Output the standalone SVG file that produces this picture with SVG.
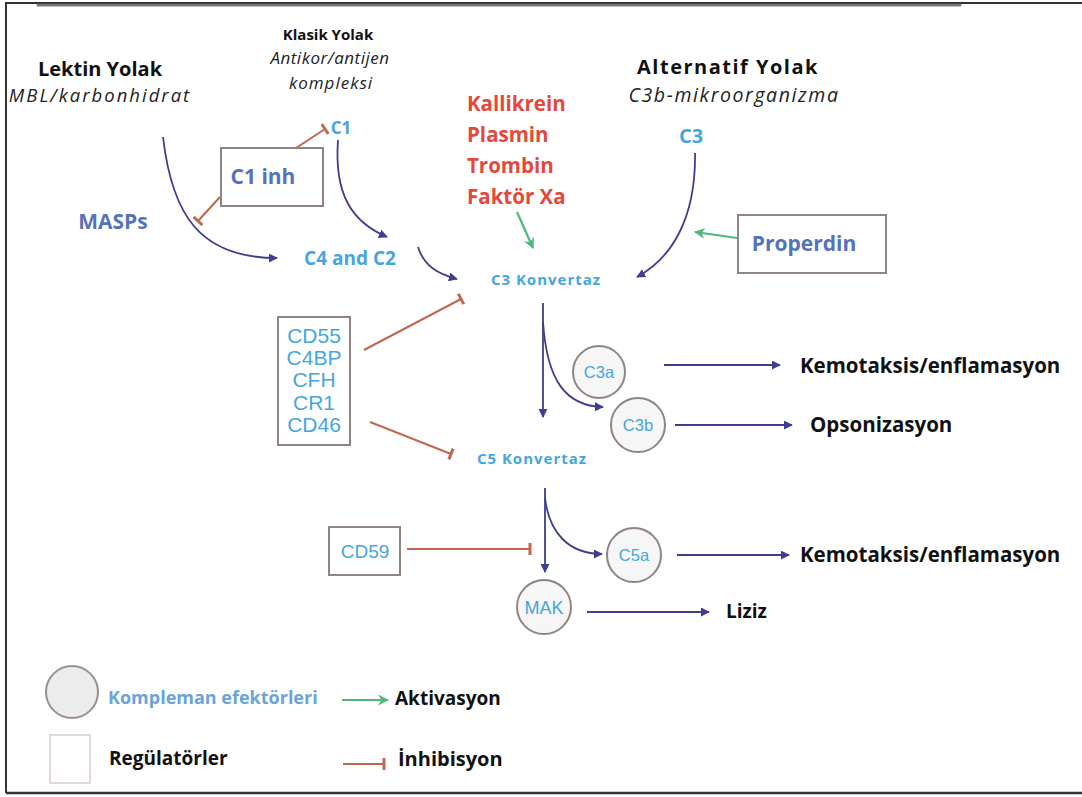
<svg xmlns="http://www.w3.org/2000/svg" width="1082" height="797" viewBox="0 0 1082 797">
  <style>
    .hd { font-family: "Open Sans", "Liberation Sans", sans-serif; font-weight: bold; font-size: 20px; fill: #111; }
    .it { font-family: "Open Sans", "Liberation Sans", sans-serif; font-style: italic; font-size: 18.5px; letter-spacing: 2px; fill: #222; }
    .lb { font-family: "Open Sans", "Liberation Sans", sans-serif; font-weight: bold; font-size: 19px; fill: #45a6df; }
    .mb { font-family: "Open Sans", "Liberation Sans", sans-serif; font-weight: bold; font-size: 21px; fill: #5572bb; }
    .rd { font-family: "Open Sans", "Liberation Sans", sans-serif; font-weight: bold; font-size: 20.5px; fill: #e5483a; }
    .sm { font-family: "Open Sans", "Liberation Sans", sans-serif; font-weight: bold; font-size: 15px; letter-spacing: 1px; fill: #45a6df; }
    .rg { font-family: "Liberation Sans", Arial, sans-serif; font-size: 21px; fill: #45a6df; }
    .ef { font-family: "Liberation Sans", Arial, sans-serif; font-size: 16.5px; fill: #45a6df; }
    .out { font-family: "Open Sans", "Liberation Sans", sans-serif; font-weight: bold; font-size: 20.5px; fill: #111; }
    .box { fill: #fff; stroke: #8f8480; stroke-width: 2; }
    .eff { fill: #f6f6f6; stroke: #8f8480; stroke-width: 2; }
    .act { fill: none; stroke: #3f3d90; stroke-width: 1.8; marker-end: url(#ah); }
    .grn { fill: none; stroke: #4cba78; stroke-width: 2.2; marker-end: url(#ag); }
    .inh { fill: none; stroke: #c0674f; stroke-width: 2; marker-end: url(#tb); }
  </style>
  <defs>
    <marker id="ah" viewBox="0 0 10 10" refX="9" refY="5" markerWidth="9" markerHeight="9" orient="auto" markerUnits="userSpaceOnUse">
      <path d="M0,0 L10,5 L0,10 z" fill="#3f3d90"/>
    </marker>
    <marker id="ag" viewBox="0 0 10 10" refX="9" refY="5" markerWidth="11" markerHeight="11" orient="auto" markerUnits="userSpaceOnUse">
      <path d="M0,0 L10,5 L0,10 L3,5 z" fill="#4cba78"/>
    </marker>
    <marker id="tb" viewBox="0 0 4 12" refX="2" refY="6" markerWidth="4" markerHeight="12" orient="auto" markerUnits="userSpaceOnUse">
      <rect x="0.5" y="0" width="3" height="12" fill="#c0674f"/>
    </marker>
  </defs>

  <rect width="1082" height="797" fill="#fff"/>
  <!-- outer frame -->
  <path d="M6,793 L6,3 L1082,3" fill="none" stroke="#333" stroke-width="2"/>
  <path d="M6,793 L1082,793" fill="none" stroke="#333" stroke-width="2.5"/>
  <path d="M38,5 L960,5" fill="none" stroke="#555" stroke-width="3" stroke-linecap="round" opacity="0.8"/>

  <!-- pathway headers -->
  <g id="lektin">
    <text class="hd" x="100" y="76" text-anchor="middle">Lektin Yolak</text>
    <text class="it" x="100" y="102" text-anchor="middle">MBL/karbonhidrat</text>
  </g>
  <g id="klasik">
    <text class="hd" x="328" y="40" text-anchor="middle" style="font-size:15px">Klasik Yolak</text>
    <text class="it" x="330" y="64" text-anchor="middle" style="font-size:17px;letter-spacing:0.5px">Antikor/antijen</text>
    <text class="it" x="331" y="89" text-anchor="middle" style="font-size:17px;letter-spacing:1px">kompleksi</text>
  </g>
  <g id="alternatif">
    <text class="hd" x="728" y="74" text-anchor="middle" style="letter-spacing:1.5px">Alternatif Yolak</text>
    <text class="it" x="734" y="102" text-anchor="middle" style="font-size:19.5px;letter-spacing:1.6px">C3b-mikroorganizma</text>
  </g>

  <!-- connectors -->
  <g id="connectors">
    <path class="act" d="M163,137 C172,215 200,258 277,258"/>
    <path class="act" d="M338,140 C334,195 352,222 387,237"/>
    <path class="act" d="M418,247 C424,266 438,274 457,279"/>
    <path class="act" d="M695,153 C696,218 672,258 637,277"/>
    <path class="grn" d="M517,212 L533,248"/>
    <path class="grn" d="M737,238 L695,232"/>
    <path class="inh" d="M220,197 L198,221"/>
    <path class="inh" d="M296,148 L325,129"/>
    <path class="inh" d="M364,350 L461,299"/>
    <path class="inh" d="M370,422 L451,454"/>
    <path class="inh" d="M407,549 L530,549"/>
    <path class="act" d="M543,303 L543,417"/>
    <path class="act" d="M543,322 C547,380 565,406 603,407"/>
    <path class="act" d="M545,488 L545,572"/>
    <path class="act" d="M545,498 C549,532 568,554 602,554"/>
    <path class="act" d="M664,365 L780,365"/>
    <path class="act" d="M675,425 L792,425"/>
    <path class="act" d="M677,555 L789,555"/>
    <path class="act" d="M587,612 L709,612"/>
  </g>

  <!-- nodes -->
  <g id="c1"><text class="lb" x="341" y="134" text-anchor="middle" style="font-size:17px">C1</text></g>
  <g id="c1inh">
    <rect class="box" x="221" y="148" width="102" height="58"/>
    <text class="mb" x="263" y="184" text-anchor="middle">C1 inh</text>
  </g>
  <g id="masps"><text class="mb" x="113" y="229" text-anchor="middle">MASPs</text></g>
  <g id="c4c2"><text class="lb" x="350" y="265" text-anchor="middle">C4 and C2</text></g>
  <g id="proteazlar">
    <text class="rd" x="467" y="111">Kallikrein</text>
    <text class="rd" x="467" y="142">Plasmin</text>
    <text class="rd" x="467" y="173">Trombin</text>
    <text class="rd" x="467" y="204">Faktör Xa</text>
  </g>
  <g id="c3"><text class="lb" x="691" y="143" text-anchor="middle" style="font-size:20px">C3</text></g>
  <g id="properdin">
    <rect class="box" x="738" y="215" width="148" height="58"/>
    <text class="mb" x="804" y="251" text-anchor="middle">Properdin</text>
  </g>
  <g id="c3konvertaz"><text class="sm" x="546" y="285" text-anchor="middle">C3 Konvertaz</text></g>
  <g id="regulatorler">
    <rect class="box" x="278" y="317" width="72" height="128"/>
    <text class="rg" x="314" y="343" text-anchor="middle">CD55</text>
    <text class="rg" x="314" y="365" text-anchor="middle">C4BP</text>
    <text class="rg" x="314" y="387" text-anchor="middle">CFH</text>
    <text class="rg" x="314" y="410" text-anchor="middle">CR1</text>
    <text class="rg" x="314" y="432" text-anchor="middle">CD46</text>
  </g>
  <g id="c3a">
    <circle class="eff" cx="599" cy="372" r="26"/>
    <text class="ef" x="599" y="378" text-anchor="middle">C3a</text>
  </g>
  <g id="c3b">
    <circle class="eff" cx="638" cy="425" r="27"/>
    <text class="ef" x="638" y="431" text-anchor="middle">C3b</text>
  </g>
  <g id="c5konvertaz"><text class="sm" x="532" y="464" text-anchor="middle">C5 Konvertaz</text></g>
  <g id="cd59">
    <rect class="box" x="329" y="527" width="71" height="48"/>
    <text class="rg" x="365" y="558" text-anchor="middle" style="font-size:19px">CD59</text>
  </g>
  <g id="c5a">
    <circle class="eff" cx="634" cy="555" r="27"/>
    <text class="ef" x="634" y="561" text-anchor="middle">C5a</text>
  </g>
  <g id="mak">
    <circle class="eff" cx="544" cy="607" r="27"/>
    <text class="ef" x="544" y="614" text-anchor="middle" style="font-size:18px">MAK</text>
  </g>

  <!-- outcomes -->
  <g id="sonuclar">
    <text class="out" x="800" y="373">Kemotaksis/enflamasyon</text>
    <text class="out" x="810" y="432">Opsonizasyon</text>
    <text class="out" x="800" y="562">Kemotaksis/enflamasyon</text>
    <text class="out" x="726" y="618" style="font-size:19px">Liziz</text>
  </g>

  <!-- legend -->
  <g id="legend">
    <circle cx="72" cy="692" r="26" fill="#ececec" stroke="#9a8f8c" stroke-width="2"/>
    <text class="mb" x="108" y="704" style="font-size:18px;fill:#6aa3da">Kompleman efektörleri</text>
    <path class="grn" d="M342,700 L388,700"/>
    <text class="out" x="395" y="705" style="font-size:19px">Aktivasyon</text>
    <rect x="50" y="735" width="40" height="48" fill="#fff" stroke="#e2d8d6" stroke-width="2"/>
    <text class="out" x="109" y="765" style="font-size:19px">Regülatörler</text>
    <path class="inh" d="M343,764 L384,764"/>
    <text class="out" x="398" y="766" style="font-size:20px">İnhibisyon</text>
  </g>
</svg>
